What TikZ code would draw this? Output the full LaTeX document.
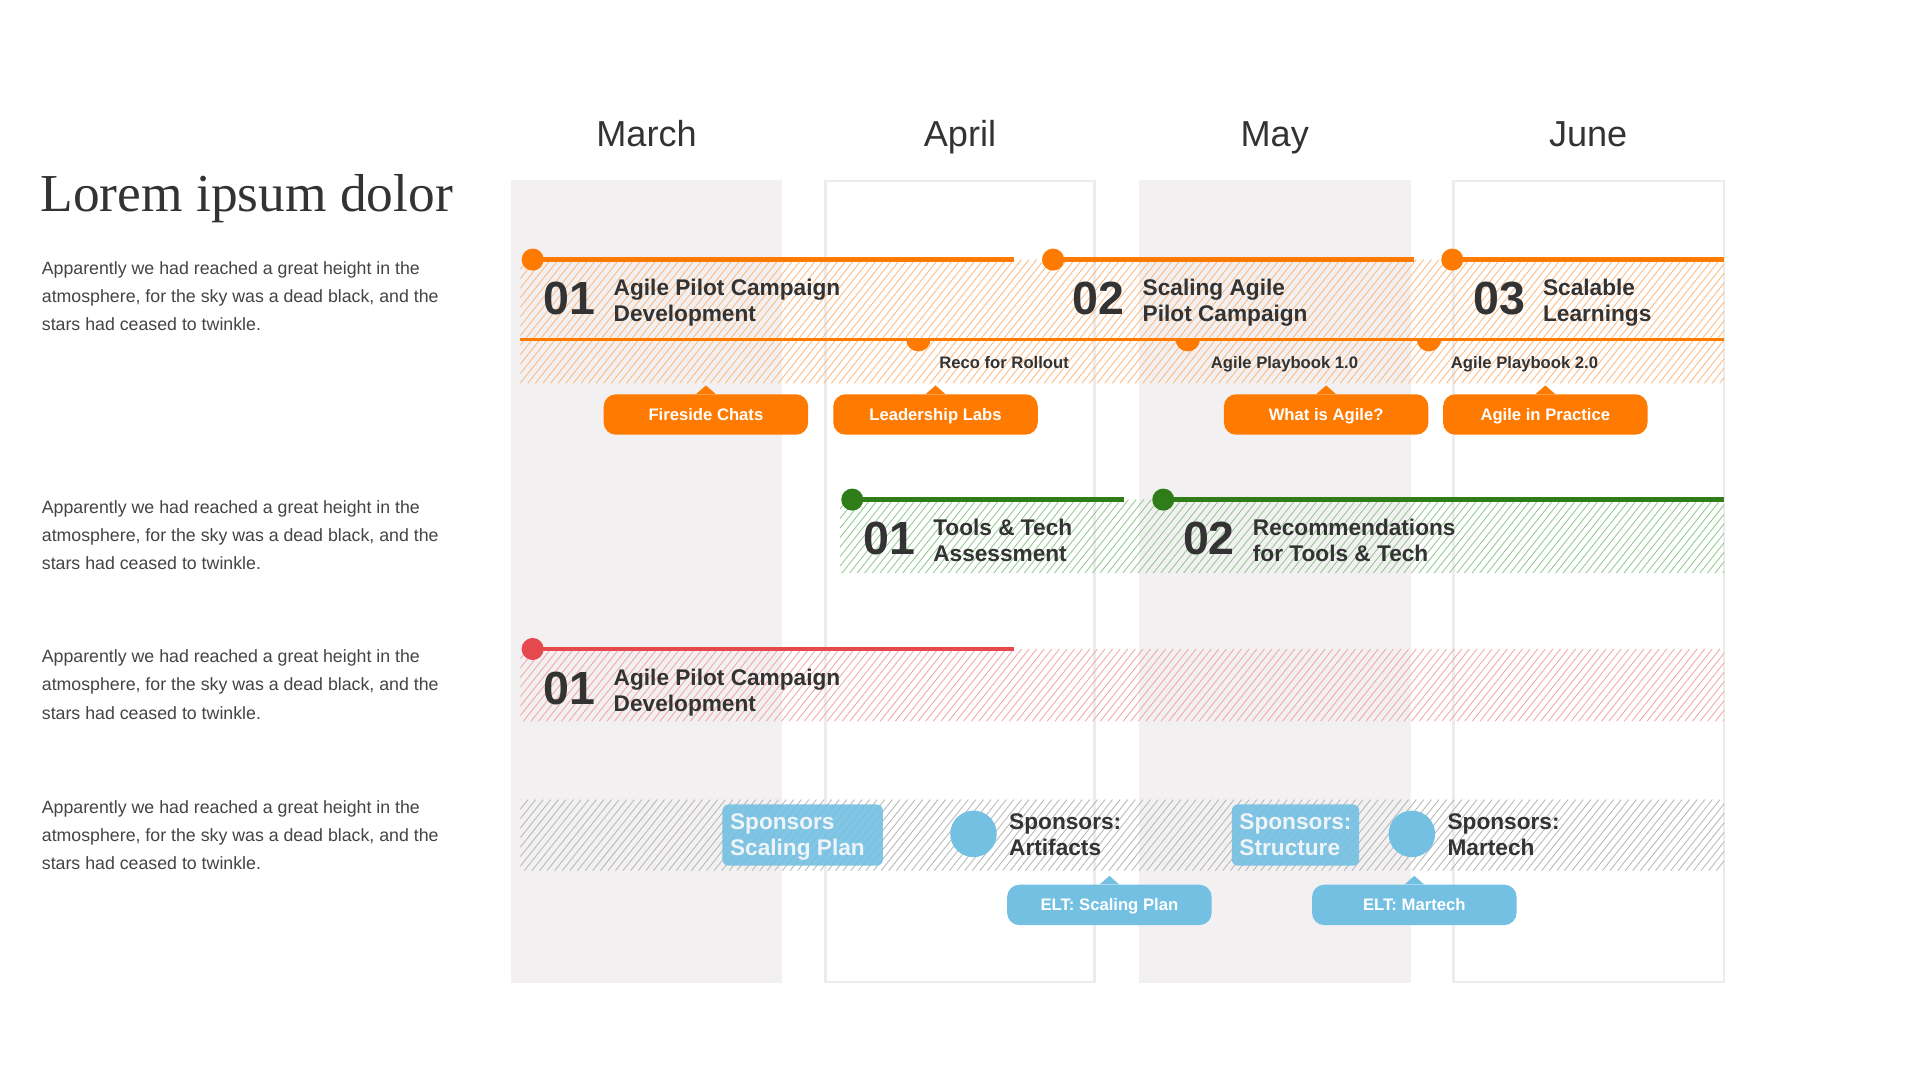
\documentclass[tikz,border=0pt]{standalone}
\usepackage{fontspec}
\setsansfont{Liberation Sans}
\newfontfamily\titlefont{Liberation Serif}
\definecolor{orng}{HTML}{FF7A00}
\definecolor{orngh}{HTML}{FFB679}
\definecolor{grn}{HTML}{2E7D18}
\definecolor{grnh}{HTML}{8CC88A}
\definecolor{rd}{HTML}{E5484D}
\definecolor{rdh}{HTML}{F4A3A6}
\definecolor{gryh}{HTML}{B5B5B5}
\definecolor{blu}{HTML}{74C0E2}
\definecolor{colg}{HTML}{F2F0F1}
\definecolor{colb}{HTML}{ECECEC}
\definecolor{txt}{HTML}{333333}
\definecolor{bodytxt}{HTML}{444444}
\definecolor{boxtxt}{HTML}{EEF4F8}

\newcommand\hatchrect[5]{%
  \begin{scope}
    \clip (#2,#3) rectangle (#4,#5);
    \pgfmathsetmacro\hatchH{#5-#3}
    \pgfmathtruncatemacro\hatchN{(#4-#2+0.8*\hatchH)/6.2+1}
    \foreach \hi in {0,...,\hatchN}
      \draw[#1, line width=0.65pt] ({#2-0.8*\hatchH+\hi*6.2},#5) -- ++({0.8*\hatchH},{-\hatchH});
  \end{scope}}
\newcommand\pointer[2]{\fill[#1] ([xshift=-8pt]#2.north) -- ([yshift=7pt]#2.north) -- ([xshift=8pt]#2.north) -- cycle;}
\newcommand\halfdot[1]{\fill[orng] ([xshift=-10pt]#1) arc[start angle=180, end angle=360, radius=10pt] -- cycle;}

\begin{document}
\begin{tikzpicture}[x=1pt,y=-1pt,
  monthlbl/.style={font=\sffamily\fontsize{29.5}{32}\selectfont, text=txt, anchor=base, inner sep=0pt},
  paratxt/.style={font=\sffamily\fontsize{14.5}{23}\selectfont, text=bodytxt, anchor=north west, align=left, inner sep=0pt},
  numtxt/.style={font=\sffamily\bfseries\fontsize{38}{40}\selectfont, text=txt, anchor=west, inner sep=0pt},
  headtxt/.style={font=\sffamily\bfseries\fontsize{18.5}{21}\selectfont, text=txt, anchor=west, align=left, inner sep=0pt},
  sublabel/.style={font=\sffamily\bfseries\fontsize{13.6}{16}\selectfont, text=txt, inner sep=0pt, text height=9.7pt, text depth=0pt},
  btn/.style={rounded corners=10pt, minimum width=167pt, minimum height=33pt, inner sep=0pt, text height=9.7pt, text depth=0pt, font=\sffamily\bfseries\fontsize{13.6}{16}\selectfont, text=white},
  dotnode/.style={circle, minimum size=18pt, inner sep=0pt},
  bluebox/.style={fill=blu, fill opacity=0.9, rounded corners=5pt, minimum height=50pt, inner sep=0pt}
]
\useasboundingbox (0,0) rectangle (1568,882);
\fill[white] (0,0) rectangle (1568,882);

% columns
\fill[colg] (417,147) rectangle (639,803);
\draw[colb, line width=2pt, fill=white] (674,148) rectangle (894,802);
\fill[colg] (930,147) rectangle (1152,803);
\draw[colb, line width=2pt, fill=white] (1187,148) rectangle (1408,802);

% months
\node[monthlbl] (mMar) at (528,120) {March};
\node[monthlbl] (mApr) at (784,120) {April};
\node[monthlbl] (mMay) at (1041,120) {May};
\node[monthlbl] (mJun) at (1297,120) {June};

% title and paragraphs
\node[anchor=base west, inner sep=0pt, text=txt, font=\titlefont\fontsize{43.6}{46}\selectfont] (title) at (33,173) {Lorem ipsum dolor};
\node[paratxt] (p1) at (34,208) {\strut Apparently we had reached a great height in the\\\strut atmosphere, for the sky was a dead black, and the\\\strut stars had ceased to twinkle.};
\node[paratxt] (p2) at (34,403) {\strut Apparently we had reached a great height in the\\\strut atmosphere, for the sky was a dead black, and the\\\strut stars had ceased to twinkle.};
\node[paratxt] (p3) at (34,525) {\strut Apparently we had reached a great height in the\\\strut atmosphere, for the sky was a dead black, and the\\\strut stars had ceased to twinkle.};
\node[paratxt] (p4) at (34,648) {\strut Apparently we had reached a great height in the\\\strut atmosphere, for the sky was a dead black, and the\\\strut stars had ceased to twinkle.};

% ---------- Row 1 (orange)
\hatchrect{orngh}{425}{212}{1408}{313}
\coordinate (r1l) at (425,277);
\coordinate (r1r) at (1408,277);
\draw[orng, line width=2.5pt] (r1l) -- (r1r);
\coordinate (e1a) at (828,212);
\coordinate (e1b) at (1155,212);
\coordinate (e1c) at (1408,212);
\node[dotnode, fill=orng] (d1a) at (435,212) {};
\node[dotnode, fill=orng] (d1b) at (860,212) {};
\node[dotnode, fill=orng] (d1c) at (1186,212) {};
\draw[orng, line width=3.5pt] (d1a.center) -- (e1a);
\draw[orng, line width=3.5pt] (d1b.center) -- (e1b);
\draw[orng, line width=3.5pt] (d1c.center) -- (e1c);
\coordinate (h1) at (750,277);
\coordinate (h2) at (970,277);
\coordinate (h3) at (1167,277);
\halfdot{h1}\halfdot{h2}\halfdot{h3}
\node[sublabel] (l1) at (820,296) {Reco for Rollout};
\node[sublabel] (l2) at (1049,296) {Agile Playbook 1.0};
\node[sublabel] (l3) at (1245,296) {Agile Playbook 2.0};

\node[numtxt] (n1a) at (444,244) {01};
\node[headtxt] (t1a) at (501,248) {\strut Agile Pilot Campaign\\\strut Development};
\node[numtxt] (n1b) at (876,244) {02};
\node[headtxt] (t1b) at (933,248) {\strut Scaling Agile\\\strut Pilot Campaign};
\node[numtxt] (n1c) at (1203,244) {03};
\node[headtxt] (t1c) at (1260,248) {\strut Scalable\\\strut Learnings};

\node[btn, fill=orng] (b1) at (576.5,338.5) {Fireside Chats};
\node[btn, fill=orng] (b2) at (764,338.5) {Leadership Labs};
\node[btn, fill=orng] (b3) at (1083,338.5) {What is Agile?};
\node[btn, fill=orng] (b4) at (1262,338.5) {Agile in Practice};
\pointer{orng}{b1}\pointer{orng}{b2}\pointer{orng}{b3}\pointer{orng}{b4}

% ---------- Row 2 (green)
\hatchrect{grnh}{686}{408}{1408}{468}
\coordinate (e2a) at (918,408);
\coordinate (e2b) at (1408,408);
\node[dotnode, fill=grn] (d2a) at (696,408) {};
\node[dotnode, fill=grn] (d2b) at (950,408) {};
\draw[grn, line width=3.5pt] (d2a.center) -- (e2a);
\draw[grn, line width=3.5pt] (d2b.center) -- (e2b);
\node[numtxt] (n2a) at (705,440) {01};
\node[headtxt] (t2a) at (762,444) {\strut Tools \& Tech\\\strut Assessment};
\node[numtxt] (n2b) at (966,440) {02};
\node[headtxt] (t2b) at (1023,444) {\strut Recommendations\\\strut for Tools \& Tech};

% ---------- Row 3 (red)
\hatchrect{rdh}{425}{530}{1408}{589}
\coordinate (e3a) at (828,530);
\node[dotnode, fill=rd] (d3a) at (435,530) {};
\draw[rd, line width=3.5pt] (d3a.center) -- (e3a);
\node[numtxt] (n3a) at (444,562) {01};
\node[headtxt] (t3a) at (501,566) {\strut Agile Pilot Campaign\\\strut Development};

% ---------- Row 4 (grey / blue)
\hatchrect{gryh}{425}{653}{1408}{711}
\node[bluebox, minimum width=131pt] (bx1) at (655.5,682) {};
\node[bluebox, minimum width=104pt] (bx2) at (1058,682) {};
\node[headtxt, text=boxtxt] (bt1) at (596,684) {\strut Sponsors\\\strut Scaling Plan};
\node[headtxt, text=boxtxt] (bt2) at (1012,684) {\strut Sponsors:\\\strut Structure};
\node[circle, fill=blu, minimum size=38pt, inner sep=0pt] (c1) at (795,681) {};
\node[circle, fill=blu, minimum size=38pt, inner sep=0pt] (c2) at (1153,681) {};
\node[headtxt] (s1) at (824,684) {\strut Sponsors:\\\strut Artifacts};
\node[headtxt] (s2) at (1182,684) {\strut Sponsors:\\\strut Martech};

\node[btn, fill=blu] (b5) at (906,739) {ELT: Scaling Plan};
\node[btn, fill=blu] (b6) at (1155,739) {ELT: Martech};
\pointer{blu}{b5}\pointer{blu}{b6}
\end{tikzpicture}
\end{document}
